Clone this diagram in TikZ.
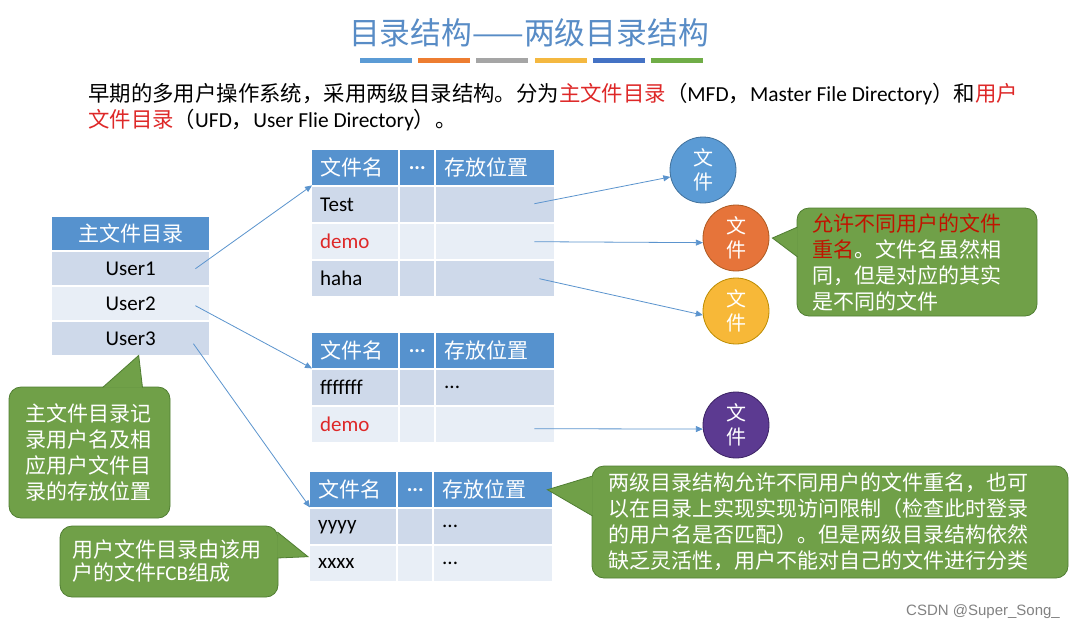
\documentclass[tikz,border=0pt]{standalone}
\usepackage{fontspec}
\setmainfont{Noto Sans CJK SC}
\newfontfamily\enf{Carlito}
\newfontfamily\wmf{Liberation Sans}
\usetikzlibrary{calc,positioning,arrows.meta}
\definecolor{ttl}{RGB}{88,140,198}
\definecolor{hdc}{RGB}{86,146,206}
\definecolor{rowa}{RGB}{206,217,234}
\definecolor{rowb}{RGB}{232,238,246}
\definecolor{redtx}{RGB}{222,40,40}
\definecolor{calred}{RGB}{192,20,0}
\definecolor{grn}{RGB}{112,160,72}
\definecolor{grnb}{RGB}{80,126,50}
\definecolor{lnk}{RGB}{91,148,206}
\definecolor{fblue}{RGB}{91,155,213}
\definecolor{fblueb}{RGB}{65,113,156}
\definecolor{forange}{RGB}{230,116,58}
\definecolor{forangeb}{RGB}{174,90,33}
\definecolor{fyell}{RGB}{247,184,56}
\definecolor{fyellb}{RGB}{188,140,0}
\definecolor{fpurp}{RGB}{92,58,145}
\definecolor{fpurpb}{RGB}{60,35,100}
\definecolor{bara}{RGB}{91,155,213}
\definecolor{barb}{RGB}{237,125,49}
\definecolor{barc}{RGB}{165,165,165}
\definecolor{bard}{RGB}{244,184,64}
\definecolor{bare}{RGB}{68,114,196}
\definecolor{barf}{RGB}{112,173,71}
\definecolor{wmgray}{RGB}{130,130,130}
\newcommand\fsz[2]{\fontsize{#1pt}{#2pt}\selectfont}
\tikzset{
  cell/.style={anchor=north west,minimum height=35pt,inner xsep=8pt,inner ysep=0pt,align=left,font=\fsz{21}{26}\enf},
  hd/.style={cell,fill=hdc,text=white,font=\fsz{21}{26}},
  ra/.style={cell,fill=rowa},
  rb/.style={cell,fill=rowb},
  ca/.style={text width=70pt},
  cb/.style={text width=18pt,align=center},
  cc/.style={text width=102pt},
  mfd/.style={minimum width=157pt,minimum height=33pt,inner sep=0pt,anchor=north west,font=\fsz{21}{26}\enf},
  file/.style={circle,minimum size=66pt,inner sep=0pt,line width=0.8pt,text=white,align=center,font=\fsz{20}{24}},
  note/.style={rounded corners=12pt,fill=grn,draw=grnb,line width=0.8pt,text=white,align=left,inner sep=0pt,font=\fsz{21}{26}},
  tip/.style={fill=grn,draw=grnb,line width=0.8pt},
}
\newcommand\ufdrow[7]{\node[#4,ca] (#1a) at (#2,#3) {#5};
  \node[#4,cb] (#1b) at (#2+88,#3) {#6};
  \node[#4,cc] (#1c) at (#2+124,#3) {#7};}
\begin{document}
\begin{tikzpicture}[x=1pt,y=-1pt,link/.style={-{Triangle[length=7pt,width=6pt]},line width=0.8pt,lnk}]
  \fill[white] (0,0) rectangle (1079,630);
  \useasboundingbox (0,0) rectangle (1079,630);
  \node[font=\fsz{30.8}{36},text=ttl] (title) at (529,33) {目录结构——两级目录结构};
  \foreach \c [count=\i from 0] in {bara,barb,barc,bard,bare,barf}
    \fill[\c] (360+58.2*\i,58) rectangle ++(52,5);
  \node[anchor=base west,inner sep=0pt,font=\fsz{21.4}{26}] (intro1) at (88,101) {早期的多用户操作系统，采用两级目录结构。分为\textcolor{redtx}{主文件目录}（{\enf MFD}，{\enf Master File Directory}）和\textcolor{redtx}{用户}};
  \node[anchor=base west,inner sep=0pt,font=\fsz{21.4}{26}] (intro2) at (88,127) {\textcolor{redtx}{文件目录}（{\enf UFD}，{\enf User Flie Directory}）。};

  \node[mfd,fill=hdc,text=white,font=\fsz{21}{26}] (mh) at (52,217) {主文件目录};
  \node[mfd,fill=rowa] (m1) at (52,252) {User1};
  \node[mfd,fill=rowb] (m2) at (52,287) {User2};
  \node[mfd,fill=rowa] (m3) at (52,322) {User3};

  \ufdrow{t1h}{312}{150}{hd}{文件名}{\enf\bfseries ...}{存放位置}
  \ufdrow{t1r1}{312}{187}{ra}{Test}{}{}
  \ufdrow{t1r2}{312}{224}{rb}{\textcolor{redtx}{demo}}{}{}
  \ufdrow{t1r3}{312}{261}{ra}{haha}{}{}
  \ufdrow{t2h}{312}{333}{hd}{文件名}{\enf\bfseries ...}{存放位置}
  \ufdrow{t2r1}{312}{370}{ra}{fffffff}{}{...}
  \ufdrow{t2r2}{312}{407}{rb}{\textcolor{redtx}{demo}}{}{}
  \ufdrow{t3h}{310}{472}{hd}{文件名}{\enf\bfseries ...}{存放位置}
  \ufdrow{t3r1}{310}{509}{ra}{yyyy}{}{...}
  \ufdrow{t3r2}{310}{546}{rb}{xxxx}{}{...}

  \node[file,fill=fblue,draw=fblueb] (f1) at (703,170) {文\\件};
  \node[file,fill=forange,draw=forangeb] (f2) at (736,238) {文\\件};
  \node[file,fill=fyell,draw=fyellb] (f3) at (736,311) {文\\件};
  \node[file,fill=fpurp,draw=fpurpb] (f4) at (736,425) {文\\件};

  \draw[link] ([xshift=-14pt]m1.east) -- (t1ha.south west);
  \draw[link] ([xshift=-14pt,yshift=-2pt]m2.east) -- (t2ha.south west);
  \draw[link] ([xshift=-16pt,yshift=-5pt]m3.east) -- (t3ha.south west);
  \draw[link] ([xshift=-20pt,yshift=1pt]t1r1c.east) -- (f1.192);
  \draw[link] ([xshift=-20pt]t1r2c.east) -- (f2.188);
  \draw[link] ([xshift=-15pt]t1r3c.east) -- (f3.187);
  \draw[link] ([xshift=-20pt,yshift=-4pt]t2r2c.east) -- (f4.187);

  \node[note,text width=128pt,minimum width=161pt,minimum height=131pt] (n1) at (89.5,452.5) {主文件目录记\\录用户名及相\\应用户文件目\\录的存放位置};
  \path[tip] ($(n1.north)+(13,1)$) -- ([xshift=8pt]m3.south) -- ($(n1.north)+(53,1)$);
  \node[note,text width=194pt,minimum width=218pt,minimum height=71pt,font=\fsz{21}{23}] (n2) at (169,561.5) {用户文件目录由该用\\户的文件{\enf FCB}组成};
  \path[tip] ($(n2.east)+(-1,-29.5)$) -- ([shift={(-2,-7)}]t3r2a.west) -- ($(n2.east)+(-1,-3.5)$);
  \node[note,text width=210pt,minimum width=240pt,minimum height=108pt] (n3) at (917,262) {\textcolor{calred}{允许不同用户的文件}\\\textcolor{calred}{重名}。文件名虽然相\\同，但是对应的其实\\是不同的文件};
  \path[tip] ($(n3.west)+(1,-35)$) -- ([xshift=3pt]f2.east) -- ($(n3.west)+(1,-5)$);
  \node[note,text width=444pt,minimum width=476pt,minimum height=112pt] (n4) at (830,522) {两级目录结构允许不同用户的文件重名，也可\\以在目录上实现实现访问限制（检查此时登录\\的用户名是否匹配）。但是两级目录结构依然\\缺乏灵活性，用户不能对自己的文件进行分类};
  \path[tip] ($(n4.west)+(1,-46)$) -- ([xshift=-5pt]t3hc.east) -- ($(n4.west)+(1,-6)$);

  \node[font=\wmf\fsz{15}{18},text=wmgray] (mark) at (983,612) {CSDN @Super\_Song\_};
\end{tikzpicture}
\end{document}
